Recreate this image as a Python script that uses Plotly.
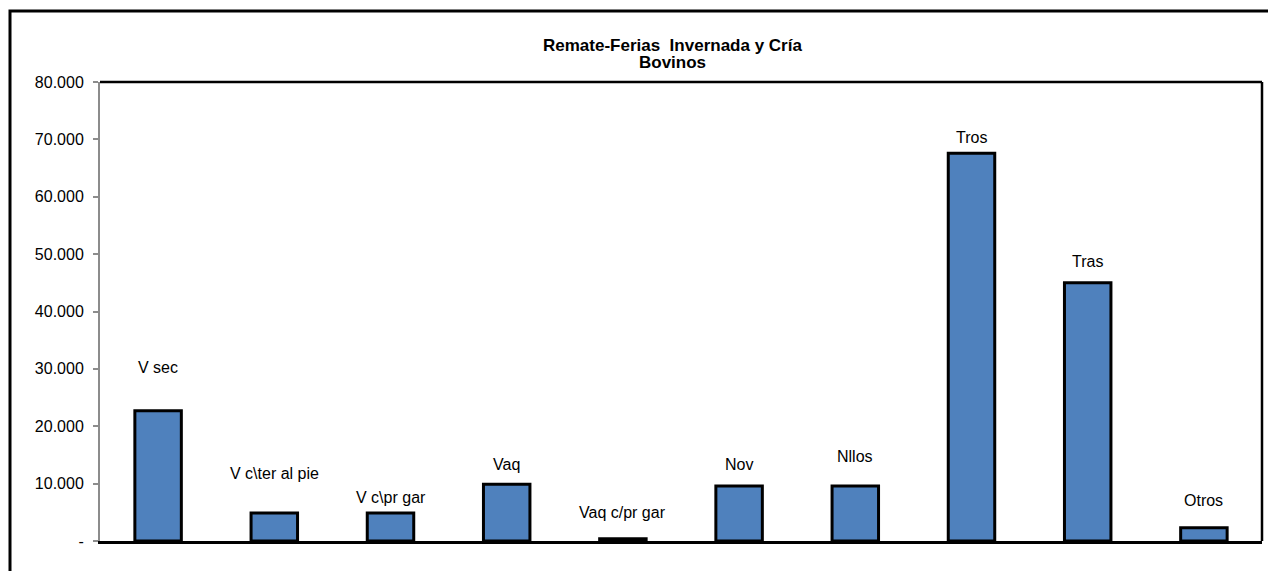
import plotly.graph_objects as go

# Datos del gráfico (cabezas de ganado por categoría)
categorias = ["V sec", "V c\\ter al pie", "V c\\pr gar", "Vaq", "Vaq c/pr gar",
              "Nov", "Nllos", "Tros", "Tras", "Otros"]
cabezas = [22700, 4900, 4900, 9900, 400, 9600, 9600, 67600, 45000, 2300]

valores_eje = [0, 10000, 20000, 30000, 40000, 50000, 60000, 70000, 80000]
textos_eje = ["-" if v == 0 else f"{v:,}".replace(",", ".") for v in valores_eje]

titulo = ["Remate-Ferias  Invernada y Cría", "Bovinos"]

# Desplazamiento (px) de cada etiqueta sobre su barra
desplazamiento_etiquetas = [33, 29, 5, 9, 16, 11, 19, 5, 11, 17]

FUENTE = "Liberation Sans, Arial, sans-serif"

fig = go.Figure()

fig.add_trace(
    go.Bar(
        x=categorias,
        y=cabezas,
        marker=dict(color="#4F81BD", line=dict(color="black", width=3)),
        hoverinfo="x+y",
    )
)

# Etiquetas de categoría encima de cada barra
for cat, val, desp in zip(categorias, cabezas, desplazamiento_etiquetas):
    fig.add_annotation(
        x=cat, y=val, text=cat, showarrow=False,
        yanchor="bottom", yshift=desp,
        font=dict(family=FUENTE, size=16, color="black"),
    )

# Título en dos líneas
for linea, desp in zip(titulo, [37, 20]):
    fig.add_annotation(
        xref="paper", yref="paper", x=0.493, y=1, yshift=desp,
        xanchor="center", yanchor="middle", showarrow=False,
        text=f"<b>{linea}</b>",
        font=dict(family=FUENTE, size=17, color="black"),
    )

# Marco exterior del gráfico (se sale por la derecha y por abajo)
fig.add_shape(
    type="rect", xref="paper", yref="paper",
    xsizemode="pixel", ysizemode="pixel",
    xanchor=0, yanchor=1,
    x0=-90, x1=1300, y0=71, y1=-700,
    line=dict(color="black", width=3), layer="below",
)
# Borde superior y derecho del área de trazado
fig.add_shape(type="line", xref="paper", yref="paper", x0=0, x1=1, y0=1, y1=1,
              line=dict(color="black", width=2.5))
fig.add_shape(type="line", xref="paper", yref="paper", x0=1, x1=1, y0=0, y1=1,
              line=dict(color="black", width=2.5))

fig.update_layout(
    width=1268,
    height=563,
    margin=dict(l=92, r=14, t=74, b=30),
    paper_bgcolor="white",
    plot_bgcolor="white",
    bargap=0.6,
    showlegend=False,
    xaxis=dict(
        showticklabels=False,
        showgrid=False,
        zeroline=False,
        showline=True, linecolor="black", linewidth=2.5,
        ticks="",
    ),
    yaxis=dict(
        range=[0, 80000],
        tickvals=valores_eje,
        ticktext=textos_eje,
        showgrid=False,
        zeroline=False,
        showline=True, linecolor="#8c8c8c", linewidth=2,
        ticks="outside", ticklen=5, tickwidth=2, tickcolor="#8c8c8c",
        tickfont=dict(family=FUENTE, size=16, color="black"),
        ticklabelstandoff=6,
    ),
)

fig.write_html("out.html")
